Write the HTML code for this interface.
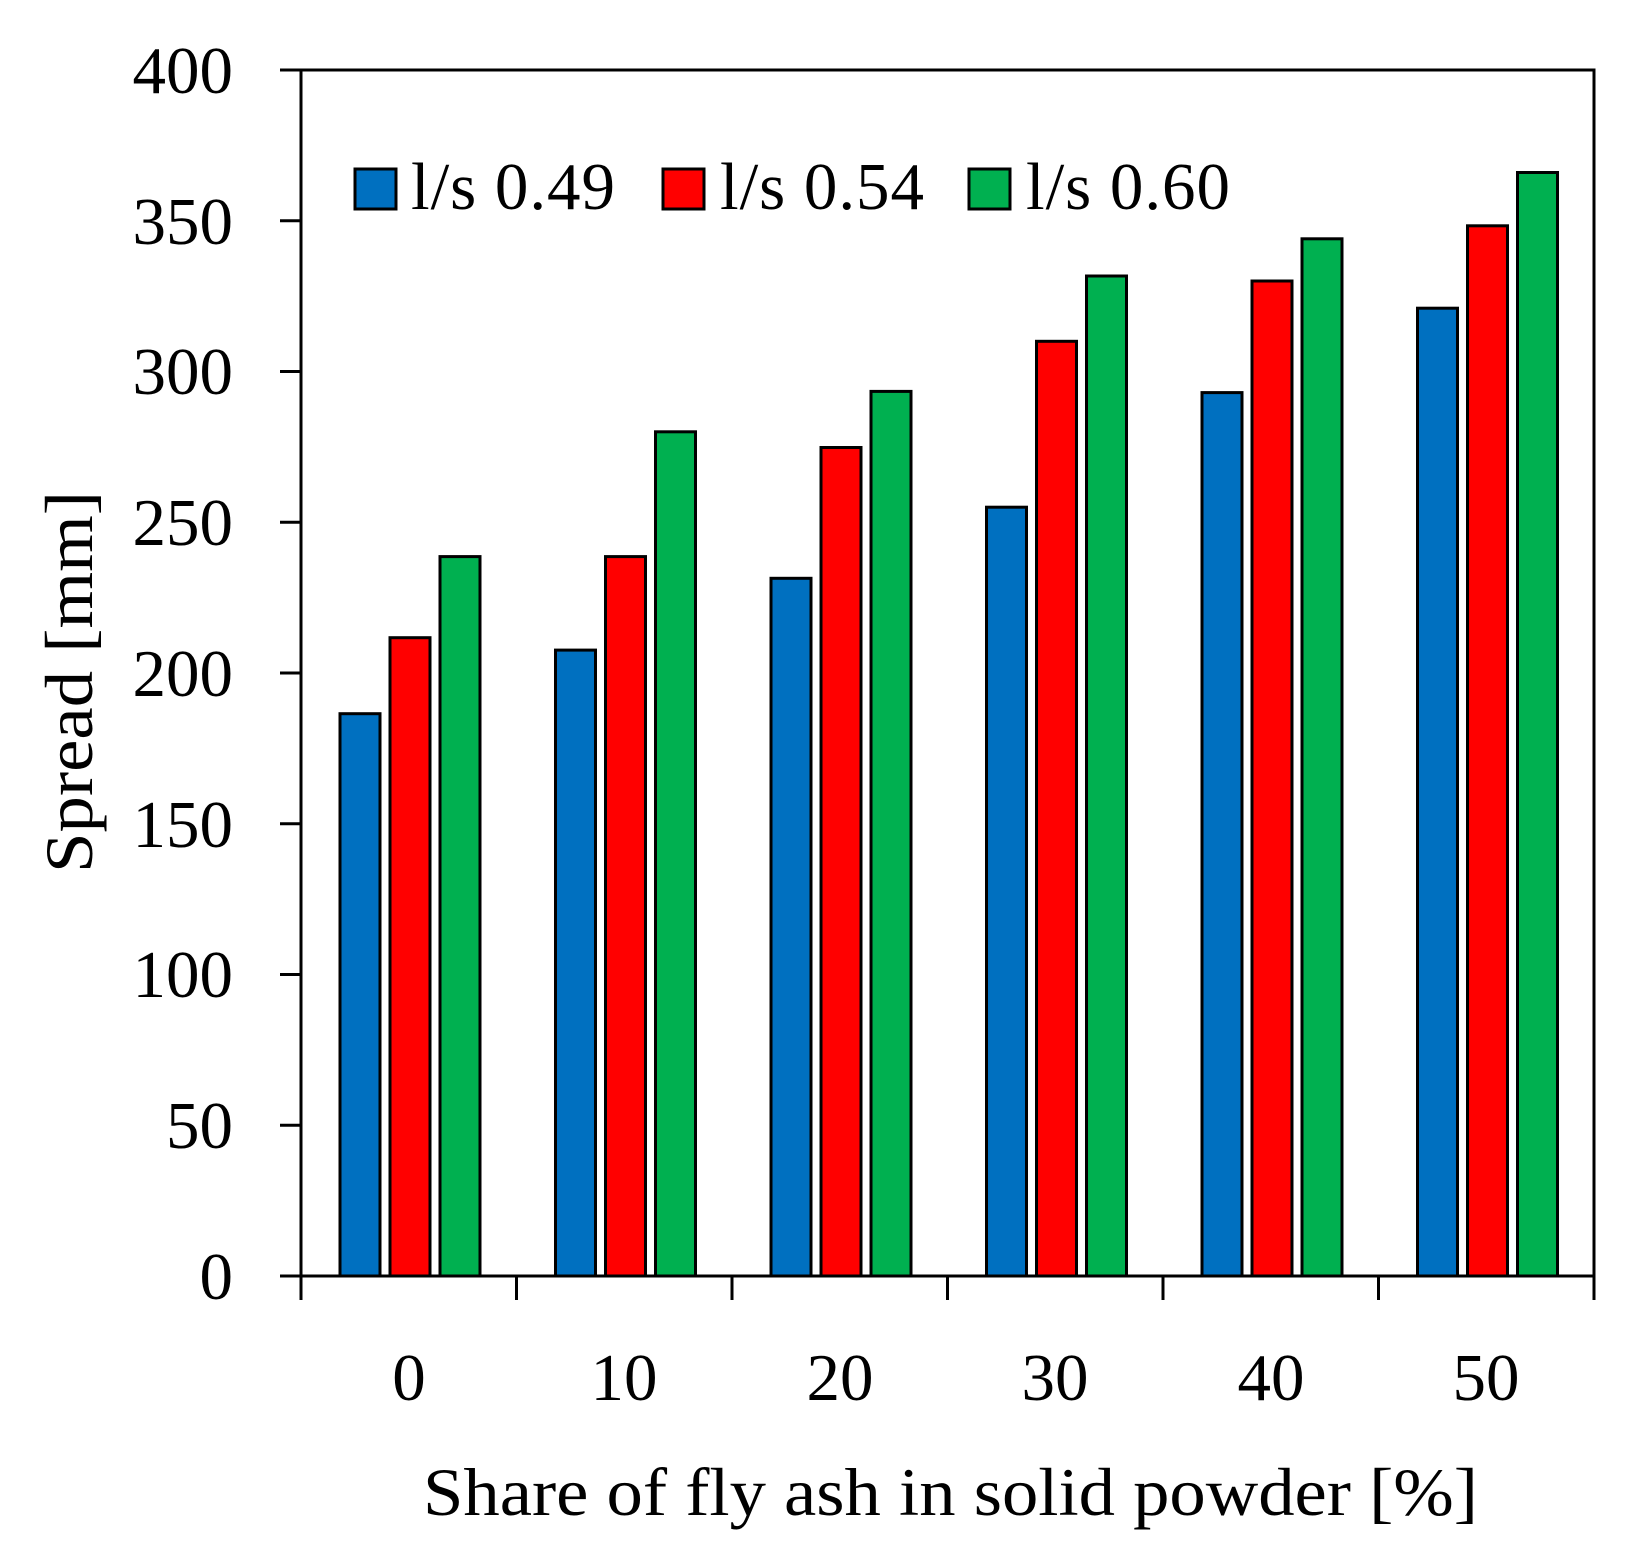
<!DOCTYPE html>
<html><head><meta charset="utf-8"><style>body{margin:0;background:#fff}</style></head><body>
<svg width="1630" height="1560" xmlns="http://www.w3.org/2000/svg" font-family="'Liberation Serif',serif">
<rect width="1630" height="1560" fill="#fff"/>
<g stroke="#000" stroke-width="3">
<rect x="340" y="713.7" width="40" height="562.3" fill="#0070C0"/>
<rect x="390" y="637.7" width="40" height="638.3" fill="#FF0000"/>
<rect x="440" y="556.6" width="40" height="719.4" fill="#00B050"/>
<rect x="555.5" y="650.1" width="40" height="625.9" fill="#0070C0"/>
<rect x="605.5" y="556.6" width="40" height="719.4" fill="#FF0000"/>
<rect x="655.5" y="431.8" width="40" height="844.2" fill="#00B050"/>
<rect x="771" y="578.3" width="40" height="697.7" fill="#0070C0"/>
<rect x="821" y="447.5" width="40" height="828.5" fill="#FF0000"/>
<rect x="871" y="391.4" width="40" height="884.6" fill="#00B050"/>
<rect x="986.5" y="507.2" width="40" height="768.8" fill="#0070C0"/>
<rect x="1036.5" y="341.3" width="40" height="934.7" fill="#FF0000"/>
<rect x="1086.5" y="276" width="40" height="1000" fill="#00B050"/>
<rect x="1202" y="392.6" width="40" height="883.4" fill="#0070C0"/>
<rect x="1252" y="281" width="40" height="995" fill="#FF0000"/>
<rect x="1302" y="238.8" width="40" height="1037.2" fill="#00B050"/>
<rect x="1417.5" y="308.2" width="40" height="967.8" fill="#0070C0"/>
<rect x="1467.5" y="225.8" width="40" height="1050.2" fill="#FF0000"/>
<rect x="1517.5" y="172.5" width="40" height="1103.5" fill="#00B050"/>
</g>
<g stroke="#000" stroke-width="3" fill="none">
<rect x="301" y="70" width="1293" height="1206"/>
<path d="M280 70H301M280 220.75H301M280 371.5H301M280 522.25H301M280 673H301M280 823.75H301M280 974.5H301M280 1125.25H301M280 1276H301"/>
<path d="M301 1276V1300M516.5 1276V1300M732 1276V1300M947.5 1276V1300M1163 1276V1300M1378.5 1276V1300M1594 1276V1300"/>
</g>
<g font-size="67" text-anchor="end">
<text x="233" y="93">400</text><text x="233" y="244">350</text><text x="233" y="394">300</text><text x="233" y="545">250</text><text x="233" y="696">200</text><text x="233" y="847">150</text><text x="233" y="997">100</text><text x="233" y="1148">50</text><text x="233" y="1299">0</text>
</g>
<g font-size="67" text-anchor="middle">
<text x="409" y="1400">0</text><text x="624" y="1400">10</text><text x="840" y="1400">20</text><text x="1055" y="1400">30</text><text x="1271" y="1400">40</text><text x="1486" y="1400">50</text>
</g>
<g font-size="68">
<text x="423" y="1515" textLength="1055" lengthAdjust="spacingAndGlyphs">Share of fly ash in solid powder [%]</text>
<text transform="translate(92,873) rotate(-90)" textLength="382" lengthAdjust="spacingAndGlyphs">Spread [mm]</text>
</g>
<g stroke="#000" stroke-width="3">
<rect x="355" y="169" width="41" height="40" fill="#0070C0"/>
<rect x="663" y="169" width="41" height="40" fill="#FF0000"/>
<rect x="969" y="169" width="41" height="40" fill="#00B050"/>
</g>
<g font-size="67">
<text x="411" y="209" textLength="204">l/s 0.49</text>
<text x="720" y="209" textLength="204">l/s 0.54</text>
<text x="1026" y="209" textLength="204">l/s 0.60</text>
</g>
</svg>
</body></html>
